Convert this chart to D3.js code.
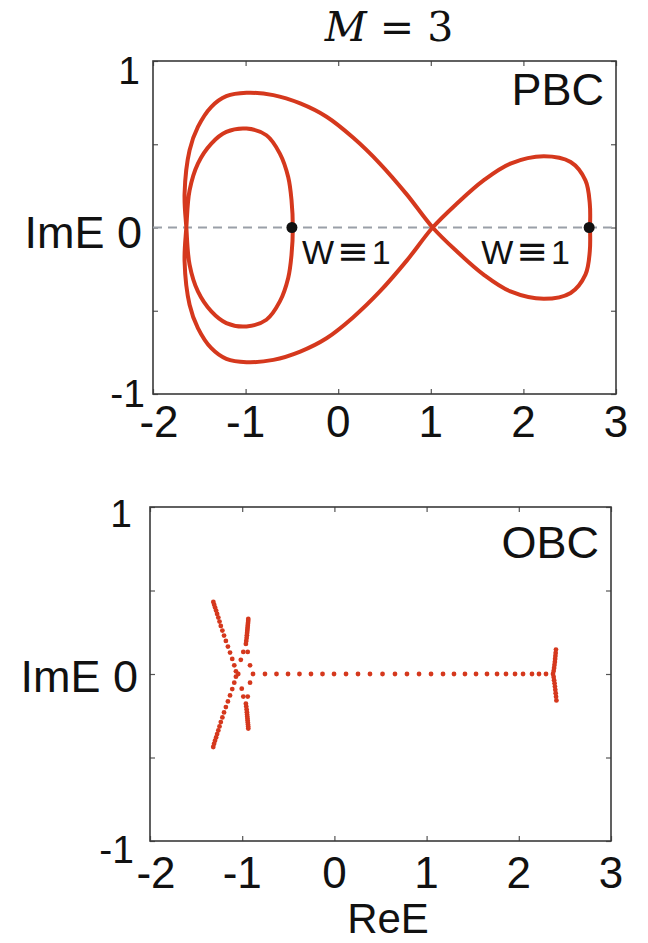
<!DOCTYPE html>
<html>
<head>
<meta charset="utf-8">
<script src="https://cdn.jsdelivr.net/npm/d3@7"></script>
<style>
  html, body { margin: 0; padding: 0; background: #fff; }
  svg { display: block; }
  text { font-family: "Liberation Sans", Arial, "DejaVu Sans", sans-serif; fill: #111; }
</style>
</head>
<body>
<svg id="chart" width="648" height="943"></svg>
<script>
// ---- data ---------------------------------------------------------------
const reTicks = [-2, -1, 0, 1, 2, 3];
const reTickLabels = ["-2", "-1", "0", "1", "2", "3"];
const imTicks = [-1, -0.5, 0, 0.5, 1];
const imLabelValues = [1, 0, -1];
const imLabelTexts = ["1", "ImE 0", "-1"];

// PBC spectrum, traced once around the closed curve E(k)
const pbcRe = [2.72, 2.717, 2.67, 2.51, 2.22, 1.86, 1.57, 1.28, 1.02,
  0.74, 0.45, 0.16, -0.126, -0.41, -0.70, -0.99, -1.208, -1.37, -1.515, -1.605, -1.659, -1.64,
  -1.605, -1.515, -1.37, -1.208, -0.99, -0.775, -0.63, -0.54, -0.504, -0.49,
  -0.504, -0.54, -0.63, -0.775, -0.99, -1.208, -1.37, -1.515, -1.605, -1.64,
  -1.659, -1.605, -1.515, -1.37, -1.208, -0.99, -0.70, -0.41, -0.126, 0.16, 0.45, 0.74, 1.02,
  1.28, 1.57, 1.86, 2.22, 2.51, 2.67, 2.717];
const pbcIm = [0, 0.143, 0.283, 0.393, 0.428, 0.384, 0.283, 0.143, 0,
  -0.199, -0.384, -0.54, -0.665, -0.745, -0.795, -0.809, -0.789, -0.725, -0.604, -0.464, -0.203, 0,
  0.223, 0.384, 0.504, 0.574, 0.594, 0.554, 0.444, 0.303, 0.163, 0,
  -0.163, -0.303, -0.444, -0.554, -0.594, -0.574, -0.504, -0.384, -0.223, 0,
  0.203, 0.464, 0.604, 0.725, 0.789, 0.809, 0.795, 0.745, 0.665, 0.54, 0.384, 0.199, 0,
  -0.143, -0.283, -0.384, -0.428, -0.393, -0.283, -0.143];

// points with winding number W = 1 marked on the PBC panel
const windRe = [-0.5, 2.71];
const windIm = [0, 0];
const windWinding = ["1", "1"];

// OBC eigenvalues
const obcRe = [
  // real segment
  -0.883, -0.753, -0.628, -0.503, -0.379, -0.254, -0.129, -0.004, 0.126, 0.256,
  0.386, 0.522, 0.657, 0.787, 0.918, 1.048, 1.178, 1.297, 1.416, 1.536,
  1.655, 1.764, 1.861, 1.959, 2.046, 2.143, 2.219, 2.295, 2.371,
  // right end branches
  2.378, 2.383, 2.387, 2.391, 2.394, 2.397, 2.400, 2.403,
  2.378, 2.383, 2.388, 2.392, 2.396, 2.400, 2.404, 2.408,
  // left long branches
  -1.313, -1.304, -1.294, -1.283, -1.272, -1.259, -1.246, -1.232, -1.215, -1.197,
  -1.177, -1.155, -1.132, -1.108, -1.086, -1.068,
  -1.314, -1.305, -1.295, -1.283, -1.272, -1.259, -1.246, -1.232, -1.215, -1.197,
  -1.177, -1.155, -1.132, -1.108, -1.086, -1.068,
  // left short branches
  -0.934, -0.935, -0.937, -0.939, -0.941, -0.943, -0.945, -0.947, -0.949, -0.952, -0.956, -0.960,
  -0.934, -0.935, -0.937, -0.939, -0.941, -0.943, -0.945, -0.947, -0.949, -0.952, -0.956, -0.960,
  // junction
  -1.043, -0.988, -0.940, -1.015, -0.915, -0.988, -0.940, -1.005, -0.915
];
const obcIm = [
  0, 0, 0, 0, 0, 0, 0, 0, 0, 0,
  0, 0, 0, 0, 0, 0, 0, 0, 0, 0,
  0, 0, 0, 0, 0, 0, 0, 0, 0,
  0.018, 0.036, 0.054, 0.072, 0.090, 0.108, 0.126, 0.146,
  -0.018, -0.037, -0.056, -0.075, -0.095, -0.115, -0.136, -0.158,
  0.431, 0.415, 0.398, 0.380, 0.360, 0.338, 0.314, 0.288, 0.260, 0.230,
  0.198, 0.164, 0.128, 0.090, 0.052, 0.016,
  -0.437, -0.418, -0.399, -0.380, -0.360, -0.338, -0.314, -0.288, -0.260, -0.230,
  -0.198, -0.164, -0.128, -0.090, -0.052, -0.016,
  0.330, 0.318, 0.306, 0.294, 0.282, 0.270, 0.258, 0.246, 0.232, 0.216, 0.198, 0.180,
  -0.327, -0.315, -0.303, -0.291, -0.279, -0.267, -0.255, -0.243, -0.229, -0.213, -0.195, -0.178,
  0, 0.132, 0.132, 0.085, 0.052, -0.135, -0.135, -0.088, -0.052
];

// ---- drawing ------------------------------------------------------------
const svg = d3.select("#chart");
const RED = "#d5381d";

svg.append("text")
  .attr("x", 389).attr("y", 41)
  .attr("text-anchor", "middle")
  .style("font-family", "'DejaVu Serif', 'Liberation Serif', serif")
  .style("font-size", "41px")
  .call(t => {
    t.append("tspan").style("font-style", "italic").text("M");
    t.append("tspan").text(" = 3");
  });

function panel(opt) {
  const x = d3.scaleLinear().domain([-2, 3]).range([opt.left, opt.right]);
  const y = d3.scaleLinear().domain([-1, 1]).range([opt.bottom, opt.top]);
  const g = svg.append("g");

  // inward ticks on all four sides
  const tick = 5;
  g.append("g").attr("transform", `translate(0,${opt.bottom})`)
    .call(d3.axisBottom(x).tickValues(reTicks).tickSize(-tick).tickFormat(""));
  g.append("g").attr("transform", `translate(0,${opt.top})`)
    .call(d3.axisTop(x).tickValues(reTicks).tickSize(-tick).tickFormat(""));
  g.append("g").attr("transform", `translate(${opt.left},0)`)
    .call(d3.axisLeft(y).tickValues(imTicks).tickSize(-tick).tickFormat(""));
  g.append("g").attr("transform", `translate(${opt.right},0)`)
    .call(d3.axisRight(y).tickValues(imTicks).tickSize(-tick).tickFormat(""));
  g.selectAll(".domain").remove();
  g.selectAll(".tick line").attr("stroke", "#555").attr("stroke-width", 1.2);

  g.append("rect")
    .attr("x", opt.left).attr("y", opt.top)
    .attr("width", opt.right - opt.left).attr("height", opt.bottom - opt.top)
    .attr("fill", "none").attr("stroke", "#3a3a3a").attr("stroke-width", 1.6);

  // x tick labels
  g.selectAll(".xl").data(reTicks).join("text")
    .attr("class", "xl")
    .attr("x", (d, i) => x(d) + (i === 0 ? 6 : 0))
    .attr("y", opt.bottom + opt.xLabelDy)
    .attr("text-anchor", "middle")
    .style("font-size", "44px")
    .text((d, i) => reTickLabels[i]);

  // y tick labels
  g.selectAll(".yl").data(imLabelValues).join("text")
    .attr("class", "yl")
    .attr("x", (d, i) => opt.left - opt.yLabelGap[i])
    .attr("y", (d, i) => y(d) + opt.yLabelDy[i])
    .attr("text-anchor", "end")
    .style("font-size", (d, i) => i === 1 ? "45px" : "39px")
    .text((d, i) => imLabelTexts[i]);

  g.append("text")
    .attr("x", opt.right - 12).attr("y", opt.top + opt.tagDy)
    .attr("text-anchor", "end")
    .style("font-size", "45px")
    .text(opt.tag);

  return { g, x, y };
}

// PBC panel
const pbcPanel = panel({ left: 153, right: 616, top: 61, bottom: 394, tag: "PBC", tagDy: 44,
  xLabelDy: 43, yLabelGap: [13, 11, 8], yLabelDy: [23, 20, 13] });

pbcPanel.g.append("line")
  .attr("x1", pbcPanel.x(-2)).attr("x2", pbcPanel.x(3))
  .attr("y1", pbcPanel.y(0)).attr("y2", pbcPanel.y(0))
  .attr("stroke", "#9aa0a8").attr("stroke-width", 2)
  .attr("stroke-dasharray", "9,6");

const pbcPts = pbcRe.map((r, i) => [r, pbcIm[i]]);
pbcPanel.g.append("path")
  .datum(pbcPts)
  .attr("fill", "none")
  .attr("stroke", RED)
  .attr("stroke-width", 4)
  .attr("stroke-linejoin", "round")
  .attr("d", d3.line().x(d => pbcPanel.x(d[0])).y(d => pbcPanel.y(d[1])).curve(d3.curveCatmullRomClosed.alpha(0.5)));

pbcPanel.g.selectAll(".wd").data(windRe).join("circle")
  .attr("class", "wd")
  .attr("cx", d => pbcPanel.x(d)).attr("cy", (d, i) => pbcPanel.y(windIm[i]))
  .attr("r", 5.5).attr("fill", "#111");

// "W≡1" labels, with a wide identity sign
pbcPanel.g.selectAll(".wt").data(windRe).join("text")
  .attr("class", "wt")
  .attr("x", d => pbcPanel.x(d) + (d > 0 ? -108 : 10))
  .attr("y", pbcPanel.y(0) + 36)
  .style("font-size", "34px")
  .each(function (d, i) {
    const t = d3.select(this);
    t.append("tspan").text("W");
    t.append("tspan").attr("dx", 3)
      .style("font-family", "'DejaVu Sans', sans-serif")
      .style("font-size", "38px")
      .text("\u2261");
    t.append("tspan").attr("dx", 3).text(windWinding[i]);
  });

// OBC panel
const obcPanel = panel({ left: 150, right: 611, top: 507, bottom: 841, tag: "OBC", tagDy: 51,
  xLabelDy: 47, yLabelGap: [18, 12, 16], yLabelDy: [20, 18, 22] });

obcPanel.g.selectAll(".ob").data(obcRe).join("circle")
  .attr("class", "ob")
  .attr("cx", d => obcPanel.x(d)).attr("cy", (d, i) => obcPanel.y(obcIm[i]))
  .attr("r", 2.4).attr("fill", RED);

svg.append("text")
  .attr("x", 388).attr("y", 933)
  .attr("text-anchor", "middle")
  .style("font-size", "42px")
  .text("ReE");
</script>
</body>
</html>
